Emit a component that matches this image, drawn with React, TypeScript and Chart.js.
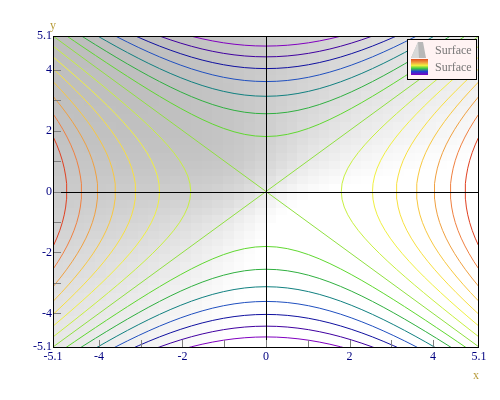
import { useEffect, useRef } from "react";
import { Chart, registerables } from "chart.js";

Chart.register(...registerables);

// ---- data ----
const axisMin = -5.1;
const axisMax = 5.1;
const labeledTicks = [-5.1, -4, -2, 0, 2, 4, 5.1];
const minorTicks = [-4, -3, -2, -1, 0, 1, 2, 3, 4];
const contourLevels = [-22.75, -19.5, -16.25, -13, -9.75, -6.5, -3.25, 0, 3.25, 6.5, 9.75, 13, 16.25, 19.5, 22.75];
const contourColors = [
  "#8000c0", "#4000a0", "#1010a0", "#2050c0", "#108080", "#30b040", "#60d830",
  "#90e040", "#c8f040", "#f0f040", "#f8e040", "#f8c840", "#f0a040", "#f08040", "#e04020",
];
const gridCells = 40;
const legendLabels = ["Surface", "Surface"];
const xTitle = "x";
const yTitle = "y";

// the plotted surface z = x^2 - y^2
const surface = (x: number, y: number) => x * x - y * y;

const gridNodes: number[] = [];
for (let i = 0; i <= gridCells; i++) gridNodes.push(axisMin + ((axisMax - axisMin) * i) / gridCells);

function shade(x: number, y: number) {
  const t = (x - y) / Math.sqrt(x * x + y * y + 1.5);
  const g = Math.max(188, Math.min(255, 232 + 30 * t));
  const v = Math.round(g);
  return `rgb(${v},${v},${v})`;
}

function buildDatasets() {
  const ds: any[] = [];
  contourLevels.forEach((level, i) => {
    const color = contourColors[i];
    const branches: { x: number; y: number }[][] = [];
    if (level > 0) {
      branches.push(gridNodes.map((y) => ({ x: Math.sqrt(level + y * y), y })));
      branches.push(gridNodes.map((y) => ({ x: -Math.sqrt(level + y * y), y })));
    } else if (level < 0) {
      branches.push(gridNodes.map((x) => ({ x, y: Math.sqrt(-level + x * x) })));
      branches.push(gridNodes.map((x) => ({ x, y: -Math.sqrt(-level + x * x) })));
    } else {
      branches.push([{ x: axisMin, y: axisMin }, { x: axisMax, y: axisMax }]);
      branches.push([{ x: axisMin, y: axisMax }, { x: axisMax, y: axisMin }]);
    }
    branches.forEach((data) =>
      ds.push({
        data,
        showLine: true,
        borderColor: color,
        backgroundColor: color,
        borderWidth: 1,
        pointRadius: 0,
        fill: false,
        tension: 0,
      })
    );
  });
  return ds;
}

const serif = "'Liberation Serif', 'Times New Roman', serif";

const decorPlugin = {
  id: "decor",
  beforeDatasetsDraw(chart: any) {
    const { ctx, chartArea: a, scales } = chart;
    const xs = scales.x;
    const ys = scales.y;
    ctx.save();
    ctx.beginPath();
    ctx.rect(a.left, a.top, a.right - a.left, a.bottom - a.top);
    ctx.clip();
    for (let i = 0; i < gridCells; i++) {
      const x0 = xs.getPixelForValue(gridNodes[i]);
      const x1 = xs.getPixelForValue(gridNodes[i + 1]);
      const xc = (gridNodes[i] + gridNodes[i + 1]) / 2;
      for (let j = 0; j < gridCells; j++) {
        const y0 = ys.getPixelForValue(gridNodes[j]);
        const y1 = ys.getPixelForValue(gridNodes[j + 1]);
        const yc = (gridNodes[j] + gridNodes[j + 1]) / 2;
        ctx.fillStyle = shade(xc, yc);
        const l = Math.floor(Math.min(x0, x1));
        const t = Math.floor(Math.min(y0, y1));
        ctx.fillRect(l, t, Math.ceil(Math.max(x0, x1)) - l, Math.ceil(Math.max(y0, y1)) - t);
      }
    }
    ctx.restore();
  },
  afterDatasetsDraw(chart: any) {
    const { ctx, chartArea: a, scales } = chart;
    const xs = scales.x;
    const ys = scales.y;
    ctx.save();
    ctx.lineWidth = 1;
    // zero axes
    ctx.strokeStyle = "#000000";
    const x0 = Math.round(xs.getPixelForValue(0)) + 0.5;
    const y0 = Math.round(ys.getPixelForValue(0)) + 0.5;
    ctx.beginPath();
    ctx.moveTo(x0, a.top);
    ctx.lineTo(x0, a.bottom);
    ctx.moveTo(a.left, y0);
    ctx.lineTo(a.right, y0);
    ctx.stroke();
    // in-plot tick marks
    ctx.strokeStyle = "#808080";
    ctx.beginPath();
    minorTicks.forEach((v) => {
      const px = Math.round(xs.getPixelForValue(v)) + 0.5;
      ctx.moveTo(px, a.bottom);
      ctx.lineTo(px, a.bottom - 7);
      const py = Math.round(ys.getPixelForValue(v)) + 0.5;
      ctx.moveTo(a.left, py);
      ctx.lineTo(a.left + 8, py);
    });
    ctx.stroke();
    // frame
    ctx.strokeStyle = "#000000";
    ctx.strokeRect(a.left + 0.5, a.top + 0.5, a.right - a.left - 1, a.bottom - a.top);
    ctx.restore();
  },
  afterDraw(chart: any) {
    const { ctx, chartArea: a } = chart;
    ctx.save();
    // axis titles
    ctx.fillStyle = "#b89c3c";
    ctx.font = `12px ${serif}`;
    ctx.textAlign = "center";
    ctx.textBaseline = "middle";
    ctx.fillText(yTitle, a.left, a.top - 10);
    ctx.fillText(xTitle, a.right - 3, a.bottom + 29);
    // legend
    const lx = 407, ly = 39, lw = 69, lh = 40;
    ctx.fillStyle = "#fff3f3";
    ctx.fillRect(lx, ly, lw, lh);
    ctx.strokeStyle = "#000000";
    ctx.lineWidth = 1;
    ctx.strokeRect(lx + 0.5, ly + 0.5, lw, lh);
    // icon 1 (gray surface)
    ctx.fillStyle = "#b8b8b8";
    ctx.beginPath();
    ctx.moveTo(418, 42);
    ctx.lineTo(423, 42);
    ctx.lineTo(426, 58);
    ctx.lineTo(411, 58);
    ctx.closePath();
    ctx.fill();
    ctx.fillStyle = "#d8d8d8";
    ctx.beginPath();
    ctx.moveTo(418, 42);
    ctx.lineTo(419, 58);
    ctx.lineTo(411, 58);
    ctx.closePath();
    ctx.fill();
    // icon 2 (rainbow)
    const grad = ctx.createLinearGradient(0, 59, 0, 75);
    grad.addColorStop(0, "#e05020");
    grad.addColorStop(0.22, "#f0a040");
    grad.addColorStop(0.4, "#f0f040");
    grad.addColorStop(0.58, "#40d040");
    grad.addColorStop(0.78, "#2040d0");
    grad.addColorStop(1, "#8000c0");
    ctx.fillStyle = grad;
    ctx.fillRect(411, 59, 17, 16);
    ctx.fillStyle = "#777777";
    ctx.textAlign = "left";
    ctx.textBaseline = "middle";
    ctx.fillText(legendLabels[0], 435, 51);
    ctx.fillText(legendLabels[1], 435, 68);
    ctx.restore();
  },
};

export default function App() {
  const ref = useRef<HTMLCanvasElement>(null);
  useEffect(() => {
    document.body.style.margin = "0";
    const canvas = ref.current!;
    const tickOpts = {
      color: "#000080",
      font: { family: serif, size: 12 },
      autoSkip: false,
      maxRotation: 0,
      callback: (v: any) => {
        const n = Number(v);
        const hit = labeledTicks.find((t) => Math.abs(t - n) < 1e-6);
        return hit === undefined ? "" : String(hit);
      },
    };
    const setTicks = (scale: any) => {
      scale.ticks = labeledTicks.map((v) => ({ value: v }));
    };
    const chart = new Chart(canvas, {
      type: "scatter",
      data: { datasets: buildDatasets() },
      plugins: [decorPlugin],
      options: {
        responsive: false,
        animation: false,
        events: [],
        layout: { padding: { left: 0, right: 21, top: 36, bottom: 0 } },
        plugins: { legend: { display: false }, tooltip: { enabled: false } },
        scales: {
          x: {
            type: "linear",
            min: axisMin,
            max: axisMax,
            afterBuildTicks: setTicks,
            afterFit: (s: any) => {
              s.height = 53;
            },
            grid: { display: false, drawTicks: false },
            border: { display: false },
            ticks: { ...tickOpts, padding: 3 },
          },
          y: {
            type: "linear",
            min: axisMin,
            max: axisMax,
            afterBuildTicks: setTicks,
            afterFit: (s: any) => {
              s.width = 53;
            },
            grid: { display: false, drawTicks: false },
            border: { display: false },
            ticks: { ...tickOpts, padding: 1 },
          },
        },
      },
    } as any);
    return () => chart.destroy();
  }, []);
  return <canvas ref={ref} width={500} height={400} style={{ display: "block", width: 500, height: 400 }} />;
}
